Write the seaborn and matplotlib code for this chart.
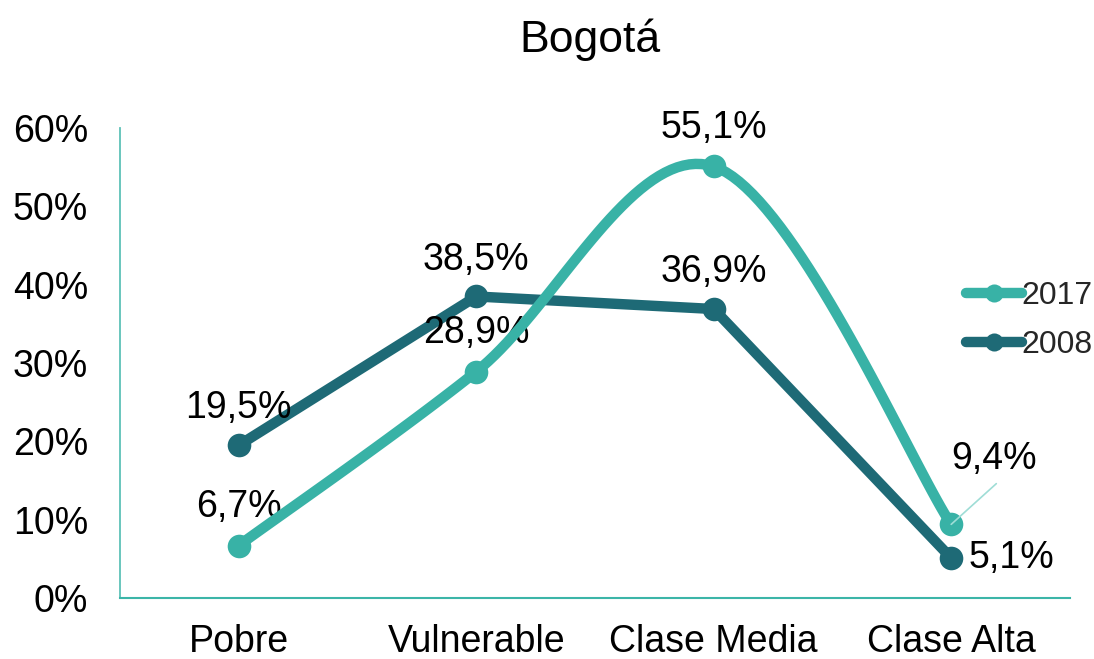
import numpy as np
import pandas as pd
import seaborn as sns
import matplotlib.pyplot as plt

categorias = ['Pobre', 'Vulnerable', 'Clase Media', 'Clase Alta']
valores_2017 = [6.7, 28.9, 55.1, 9.4]
valores_2008 = [19.5, 38.5, 36.9, 5.1]
etiquetas_y = ['0%', '10%', '20%', '30%', '40%', '50%', '60%']

color_2017 = '#38B2A6'
color_2008 = '#1E6A76'

sns.set_theme(style='white')
plt.rcParams['font.family'] = ['Liberation Sans', 'DejaVu Sans']


def suavizar(x, y, n=40):
    # curva tipo Catmull-Rom, como la linea suavizada de Excel
    px = np.concatenate([[x[0]], x, [x[-1]]])
    py = np.concatenate([[y[0]], y, [y[-1]]])
    xs, ys = [], []
    t = np.linspace(0, 1, n)
    for i in range(1, len(px) - 2):
        b0x, b0y = px[i], py[i]
        b3x, b3y = px[i + 1], py[i + 1]
        b1x = b0x + (px[i + 1] - px[i - 1]) / 6
        b1y = b0y + (py[i + 1] - py[i - 1]) / 6
        b2x = b3x - (px[i + 2] - px[i]) / 6
        b2y = b3y - (py[i + 2] - py[i]) / 6
        xs.append((1 - t)**3 * b0x + 3 * (1 - t)**2 * t * b1x + 3 * (1 - t) * t**2 * b2x + t**3 * b3x)
        ys.append((1 - t)**3 * b0y + 3 * (1 - t)**2 * t * b1y + 3 * (1 - t) * t**2 * b2y + t**3 * b3y)
    return np.concatenate(xs), np.concatenate(ys)


pos = np.arange(len(categorias), dtype=float)
cx, cy = suavizar(pos, np.array(valores_2017))
curva = pd.DataFrame({'x': cx, 'y': cy})
df08 = pd.DataFrame({'x': pos, 'y': valores_2008})
df17 = pd.DataFrame({'x': pos, 'y': valores_2017})

fig = plt.figure(figsize=(10.94, 6.59), dpi=100)
ax = fig.add_axes([0.1097, 0.0926, 0.8683, 0.713])

sns.lineplot(data=df08, x='x', y='y', ax=ax, color=color_2008, lw=7.5, marker='o',
             markersize=17, markeredgewidth=0, sort=False, zorder=3)
sns.lineplot(data=curva, x='x', y='y', ax=ax, color=color_2017, lw=7.5, sort=False, zorder=4)
ax.plot(df17['x'], df17['y'], 'o', color=color_2017, markersize=17, markeredgewidth=0, zorder=5)

fs = 27
# etiquetas 2017
for i, v in enumerate(valores_2017):
    txt = f'{v:.1f}%'.replace('.', ',')
    if i == 3:
        ax.plot([pos[i], pos[i] + 0.19], [v, v + 5.2], color='#9FDDD6', lw=1.2, zorder=6)
        ax.text(pos[i] + 0.18, v + 8.3, txt, fontsize=fs, ha='center', va='center', color='black')
    else:
        ax.text(pos[i], v + 4.9, txt, fontsize=fs, ha='center', va='center', color='black')
# etiquetas 2008
for i, v in enumerate(valores_2008):
    txt = f'{v:.1f}%'.replace('.', ',')
    if i == 3:
        ax.text(pos[i] + 0.075, v, txt, fontsize=fs, ha='left', va='center', color='black')
    else:
        ax.text(pos[i], v + 4.7, txt, fontsize=fs, ha='center', va='center', color='black')

ax.set_xlim(-0.5, 3.5)
ax.set_ylim(0, 60)
ax.set_xticks(pos)
ax.set_xticklabels(categorias)
ax.set_yticks(range(0, 61, 10))
ax.set_yticklabels(etiquetas_y)
ax.tick_params(axis='both', labelsize=fs, length=0, colors='black')
ax.tick_params(axis='x', pad=19)
ax.tick_params(axis='y', pad=23)
ax.set_xlabel('')
ax.set_ylabel('')
for s in ['top', 'right']:
    ax.spines[s].set_visible(False)
ax.spines['left'].set_color('#5EC2B8')
ax.spines['bottom'].set_color('#3BB5A8')
ax.spines['left'].set_linewidth(1.3)
ax.spines['bottom'].set_linewidth(1.5)

h17 = plt.Line2D([], [], color=color_2017, lw=7.5, marker='o', markersize=13, markeredgewidth=0)
h08 = plt.Line2D([], [], color=color_2008, lw=7.5, marker='o', markersize=13, markeredgewidth=0)
ax.legend([h17, h08], ['2017', '2008'], loc='center left', bbox_to_anchor=(0.877, 0.59),
          frameon=False, handlelength=1.75, handletextpad=0.0, labelspacing=0.6,
          borderaxespad=0, prop={'size': 23})

fig.text(0.539, 0.94, 'Bogotá', fontsize=32, ha='center', va='center', color='black')

fig.savefig('out.png', dpi=100)
